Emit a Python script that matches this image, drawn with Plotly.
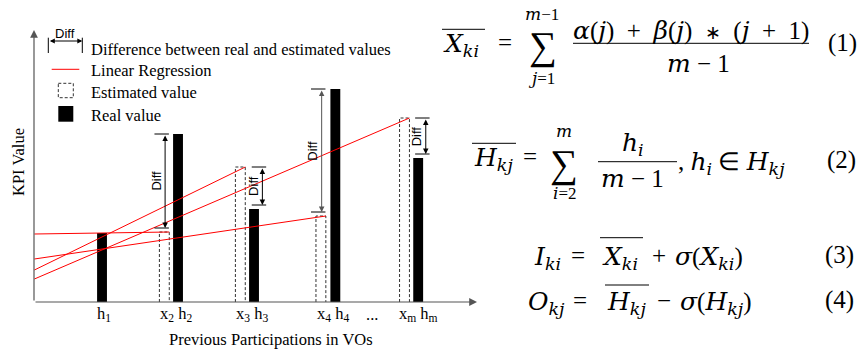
import plotly.graph_objects as go

# ---------------- data ----------------
real_labels = ["h1", "h2", "h3", "h4", "hm"]
real_pos = [1.0, 2.0, 3.0, 4.07, 5.16]
real_vals = [3.45, 8.4, 4.65, 10.65, 7.2]

est_labels = ["x2", "x3", "x4", "xm"]
est_pos = [1.82, 2.82, 3.88, 4.98]
est_vals = [3.5, 6.75, 4.3, 9.2]

# regression lines: start value at left axis, end at estimated value
reg_start = [3.4, 1.6, 2.15, 1.15]

# Diff arrows (one per estimated/real pair)
diff_x = [1.83, 3.11, 3.89, 5.26]
diff_real = [8.4, 4.65, 10.65, 7.2]

tick_vals = [1.03, 1.97, 2.97, 4.04, 4.55, 5.16]
tick_text = ["h<sub>1</sub>", "x<sub>2</sub> h<sub>2</sub>", "x<sub>3</sub> h<sub>3</sub>",
             "x<sub>4</sub> h<sub>4</sub>", "...", "x<sub>m</sub> h<sub>m</sub>"]

W, H = 863, 351
BAR_W = 0.13
X0, X1 = 0.105, 5.934
Y0, Y1 = 0.0, 13.6
SERIF = "Times New Roman, Liberation Serif, Times, serif"
SANS = "Liberation Sans, Arial, Helvetica, sans-serif"
NB = "\u00a0"
EQ = 25


def PX(x):
    return x / W


def PY(y):
    return 1 - y / H


def I(s):
    # italic math variable in a serif face
    return f'<span style="font-family:DejaVu Serif, serif;font-style:italic">{s}</span>'


fig = go.Figure()

# real values
fig.add_trace(go.Bar(x=real_pos, y=real_vals, width=BAR_W, marker=dict(color="black", line=dict(width=0)),
                     showlegend=False, hoverinfo="skip"))

# estimated values (dashed outlines)
for xc, v in zip(est_pos, est_vals):
    fig.add_trace(go.Scatter(x=[xc - BAR_W / 2, xc - BAR_W / 2, xc + BAR_W / 2, xc + BAR_W / 2],
                             y=[0, v, v, 0], mode="lines",
                             line=dict(color="#333", width=1, dash="3px,2px"),
                             showlegend=False, hoverinfo="skip"))

# regression lines
for xc, v, s in zip(est_pos, est_vals, reg_start):
    fig.add_trace(go.Scatter(x=[X0 + 0.005, xc + BAR_W / 2], y=[s, v], mode="lines",
                             line=dict(color="#ff0000", width=1), showlegend=False, hoverinfo="skip"))

annotations = []
shapes = []

# axes with arrows
annotations.append(dict(x=X1, y=Y0, ax=X0, ay=Y0, xref="x", yref="y", axref="x", ayref="y", text="",
                        showarrow=True, arrowhead=2, arrowsize=1.3, arrowwidth=1.2, arrowcolor="#555"))
annotations.append(dict(x=X0, y=Y1, ax=X0, ay=Y0, xref="x", yref="y", axref="x", ayref="y", text="",
                        showarrow=True, arrowhead=2, arrowsize=1.3, arrowwidth=1.2, arrowcolor="#555"))

# tick labels under the x axis
for tv, tt in zip(tick_vals, tick_text):
    annotations.append(dict(x=tv, y=PY(314), xref="x", yref="paper", text=tt, showarrow=False,
                            xanchor="center", yanchor="middle",
                            font=dict(family=SERIF, size=16.5, color="black")))

# Diff arrows
for i, (dx, rv, ev) in enumerate(zip(diff_x, diff_real, est_vals)):
    top = max(rv, ev)
    bot = min(rv, ev) + 0.2
    col = "#555" if i == 2 else "black"
    annotations.append(dict(x=dx, y=bot, ax=dx, ay=top, xref="x", yref="y", axref="x", ayref="y", text="",
                            showarrow=True, arrowhead=2, arrowside="end+start", arrowsize=1.1,
                            arrowwidth=1, arrowcolor=col))
    for yy in (top, bot):
        shapes.append(dict(type="line", xref="x", yref="y", x0=dx - 0.14, x1=dx + 0.05, y0=yy, y1=yy,
                           line=dict(color="black", width=1)))
    annotations.append(dict(x=dx - 0.125, y=(top + bot) / 2, xref="x", yref="y", text="Diff",
                            textangle=-90, showarrow=False, xanchor="center", yanchor="middle",
                            font=dict(family=SANS, size=13, color="black")))

# legend
annotations.append(dict(x=PX(82.3), y=PY(41), ax=-34, ay=0, xref="paper", yref="paper",
                        axref="pixel", ayref="pixel", text="", showarrow=True, arrowhead=2,
                        arrowside="end+start", arrowsize=1.0, arrowwidth=1, arrowcolor="black"))
for xx in (48.3, 82.3):
    shapes.append(dict(type="line", xref="paper", yref="paper", x0=PX(xx), x1=PX(xx), y0=PY(37.7), y1=PY(53),
                       line=dict(color="black", width=1)))
annotations.append(dict(x=PX(65), y=PY(33), xref="paper", yref="paper", text="Diff", showarrow=False,
                        xanchor="center", yanchor="middle", font=dict(family=SANS, size=13, color="black")))
shapes.append(dict(type="line", xref="paper", yref="paper", x0=PX(51.7), x1=PX(79.3), y0=PY(69.3), y1=PY(69.3),
                   line=dict(color="#ff0000", width=1)))
shapes.append(dict(type="rect", xref="paper", yref="paper", x0=PX(58.3), x1=PX(73.3), y0=PY(83.3), y1=PY(97.7),
                   line=dict(color="#333", width=1, dash="3px,2px")))
shapes.append(dict(type="rect", xref="paper", yref="paper", x0=PX(58.3), x1=PX(73.3), y0=PY(106), y1=PY(121.7),
                   fillcolor="black", line=dict(width=0)))
legend_items = [("Difference between real and estimated values", 49),
                ("Linear Regression", 70.7),
                ("Estimated value", 92.3),
                ("Real value", 115.5)]
for t, yy in legend_items:
    annotations.append(dict(x=PX(89), y=PY(yy), xref="paper", yref="paper", text=t, showarrow=False,
                            xanchor="left", yanchor="middle", font=dict(family=SERIF, size=16.5, color="black")))

# axis titles
annotations.append(dict(x=PX(271), y=PY(339), xref="paper", yref="paper", text="Previous Participations in VOs",
                        showarrow=False, xanchor="center", yanchor="middle",
                        font=dict(family=SERIF, size=16.5, color="black")))
annotations.append(dict(x=PX(18), y=PY(162), xref="paper", yref="paper", text="KPI Value", textangle=-90,
                        showarrow=False, xanchor="center", yanchor="middle",
                        font=dict(family=SERIF, size=16.5, color="black")))


# ---------------- equations ----------------
def txt(t, x, y, size=EQ, xanchor="center"):
    annotations.append(dict(x=PX(x), y=PY(y), xref="paper", yref="paper", text=t, showarrow=False,
                            xanchor=xanchor, yanchor="middle", font=dict(family=SERIF, size=size, color="black")))


def hline(x0, x1, y, w=1):
    shapes.append(dict(type="line", xref="paper", yref="paper", x0=PX(x0), x1=PX(x1), y0=PY(y), y1=PY(y),
                       line=dict(color="black", width=w)))


sp = NB * 2
star = '<span style="font-size:19px">∗</span>'
Xki = f"{I('X')}<sub>{I('ki')}</sub>"
Hkj = f"{I('H')}<sub>{I('kj')}</sub>"

# (1)
txt(Xki, 441, 45, xanchor="left")
hline(442, 485, 29.3)
txt("=", 505.5, 43)
txt("∑", 542.5, 46.5, size=39)
txt(f"{I('m')}−1", 542, 14, size=17)
txt(f"{I('j')}=1", 541.5, 78, size=17)
txt(f"{I('α')}({I('j')}){sp}+{sp}{I('β')}({I('j')}){sp}{star}{sp}({I('j')}{sp}+{sp}1)", 691, 31)
hline(573, 809, 43.3)
txt(f"{I('m')} − 1", 698, 63)
txt("(1)", 842.5, 43)

# (2)
txt(Hkj, 472, 159, xanchor="left")
hline(472, 516, 143.3)
txt("=", 530, 156.7)
txt("∑", 564, 163.5, size=39)
txt(I("m"), 564, 130.5, size=17)
txt(f"{I('i')}=2", 565, 193, size=17)
txt(f"{I('h')}<sub>{I('i')}</sub>", 633, 144)
hline(598, 677, 161.7)
txt(f"{I('m')} − 1", 632, 178)
txt(f",{NB}{I('h')}<sub>{I('i')}</sub>{NB}∈{NB}{Hkj}", 676, 163, xanchor="left")
txt("(2)", 841, 160)

# (3)
txt(f"{I('I')}<sub>{I('ki')}</sub>", 531.7, 258, xanchor="left")
txt("=", 577.5, 255)
txt(Xki, 600, 258, xanchor="left")
hline(600, 643, 237.7)
txt("+", 659, 255)
txt(f"{I('σ')}({Xki})", 673, 258, xanchor="left")
txt("(3)", 839, 255)

# (4)
txt(f"{I('O')}<sub>{I('kj')}</sub>", 526, 303, xanchor="left")
txt("=", 580, 300)
txt(Hkj, 605, 303, xanchor="left")
hline(605, 649, 285)
txt("−", 664, 300)
txt(f"{I('σ')}({Hkj})", 678, 303, xanchor="left")
txt("(4)", 839, 300)

fig.update_layout(
    width=W, height=H,
    margin=dict(l=0, r=0, t=0, b=0),
    paper_bgcolor="white", plot_bgcolor="white",
    barmode="overlay",
    showlegend=False,
    font=dict(family=SERIF),
    xaxis=dict(domain=[PX(34), PX(477)], range=[X0, X1], showgrid=False, zeroline=False, showline=False,
               showticklabels=False, ticks=""),
    yaxis=dict(domain=[PY(302), PY(30)], range=[Y0, Y1], showgrid=False, zeroline=False, showline=False,
               showticklabels=False, ticks=""),
    annotations=annotations,
    shapes=shapes,
)

fig.write_html("out.html", config={"displayModeBar": False},
               post_script="document.body.style.margin='0';document.body.style.padding='0';")
